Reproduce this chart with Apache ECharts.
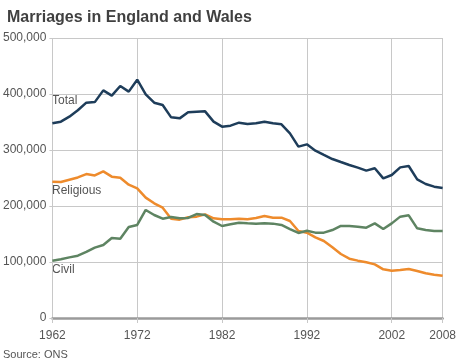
<!DOCTYPE html>
<html><head><meta charset="utf-8">
<script src="https://cdn.jsdelivr.net/npm/echarts@6/dist/echarts.min.js"></script>
<style>html,body{margin:0;padding:0;background:#fff}#c{width:459px;height:364px}</style>
</head><body><div id="c"></div>
<script>
var years = [];
for (var y = 1962; y <= 2008; y++) years.push(y);
// values in thousands
var total = [347.6,350.6,359.5,371,384.5,385.5,406.5,397,414.3,404.2,425.6,399.4,384.5,380.4,358.3,356.5,367.3,368.5,369.0,350.6,341.7,343.5,348.8,346.4,347.6,350.6,347.6,345.8,329.8,306.0,310.1,298.8,291.1,283.9,278.5,273.2,268.5,263.1,267.3,249.4,255.4,269.0,271.4,247.6,239.3,234.5,232.1];
var religious = [243.5,242.9,247.0,251.0,257.0,254.5,261.9,252.4,250.6,238.1,231.5,214.9,204.8,197.0,177.4,175.6,179.8,181.0,185.1,178.0,176.2,176.2,177.4,176.2,178.6,182.1,179.2,179.2,173.2,155.4,152.4,144.0,137.5,126.2,114.3,105.9,102.4,99.4,95.8,86.9,84.5,85.7,87.5,83.9,79.8,77.4,75.6];
var civil = [102.4,104.8,108.3,111.3,117.9,125.6,130.4,142.9,141.7,162.5,166.1,192.9,183.9,177.4,180.4,178.0,178.6,185.7,183.9,172.0,164.3,167.3,170.2,169.0,168.5,169.0,168.5,166.1,158.9,151.8,155.9,152.4,152.4,157.1,164.5,164.3,163.1,161.3,169.0,158.9,169.0,181.0,183.3,160.1,157.1,155.4,155.4];
var yTicks = [0,100000,200000,300000,400000,500000];
var xTicks = [1962,1972,1982,1992,2002,2008];

function pairs(vals){ return years.map(function(yr,i){ return [yr, Math.round(vals[i]*1000)]; }); }
var font = '"Liberation Sans", Arial, Helvetica, sans-serif';
var chart = echarts.init(document.getElementById('c'), null, {renderer:'canvas'});
chart.setOption({
  animation:false,
  backgroundColor:'#fff',
  title:{text:'Marriages in England and Wales', left:2, top:5,
    textStyle:{fontFamily:font, fontSize:16, fontWeight:'bold', color:'#404040'}},
  grid:{left:49, right:15, top:38, bottom:46},
  xAxis:{type:'value', min:1962, max:2008, interval:10,
    axisLine:{show:true, lineStyle:{color:'#9a9a9a', width:2.5}},
    axisTick:{show:true, length:5, lineStyle:{color:'#c8c8c8'}},
    splitLine:{show:true, lineStyle:{color:'#c8c8c8', width:1}},
    axisLabel:{fontFamily:font, fontSize:12, color:'#555', margin:12,
      showMinLabel:true, showMaxLabel:true,
      formatter:function(v){ return xTicks.indexOf(v)>=0 ? String(v) : ''; }}},
  yAxis:{type:'value', min:0, max:500000, interval:100000,
    axisLine:{show:false},
    axisTick:{show:true, length:3, lineStyle:{color:'#c8c8c8'}},
    splitLine:{show:true, lineStyle:{color:'#c8c8c8', width:1}},
    axisLabel:{fontFamily:font, fontSize:12, color:'#555', margin:6,
      formatter:function(v){ return yTicks.indexOf(v)>=0 ? v.toLocaleString('en-GB') : ''; }}},
  graphic:[
    {type:'text', left:52, top:95, style:{text:'Total', font:'12px '+font, fill:'#555'}},
    {type:'text', left:52, top:185, style:{text:'Religious', font:'12px '+font, fill:'#555'}},
    {type:'text', left:52, top:264, style:{text:'Civil', font:'12px '+font, fill:'#555'}},
    {type:'text', left:3, top:349, style:{text:'Source: ONS', font:'11px '+font, fill:'#555'}}
  ],
  series:[
    {type:'line', name:'Total', data:pairs(total), showSymbol:false, lineStyle:{color:'#1e3d5a', width:2.5}, z:3},
    {type:'line', name:'Religious', data:pairs(religious), showSymbol:false, lineStyle:{color:'#ee8b2c', width:2.5}, z:2},
    {type:'line', name:'Civil', data:pairs(civil), showSymbol:false, lineStyle:{color:'#5e8462', width:2.5}, z:2}
  ]
});
</script></body></html>
